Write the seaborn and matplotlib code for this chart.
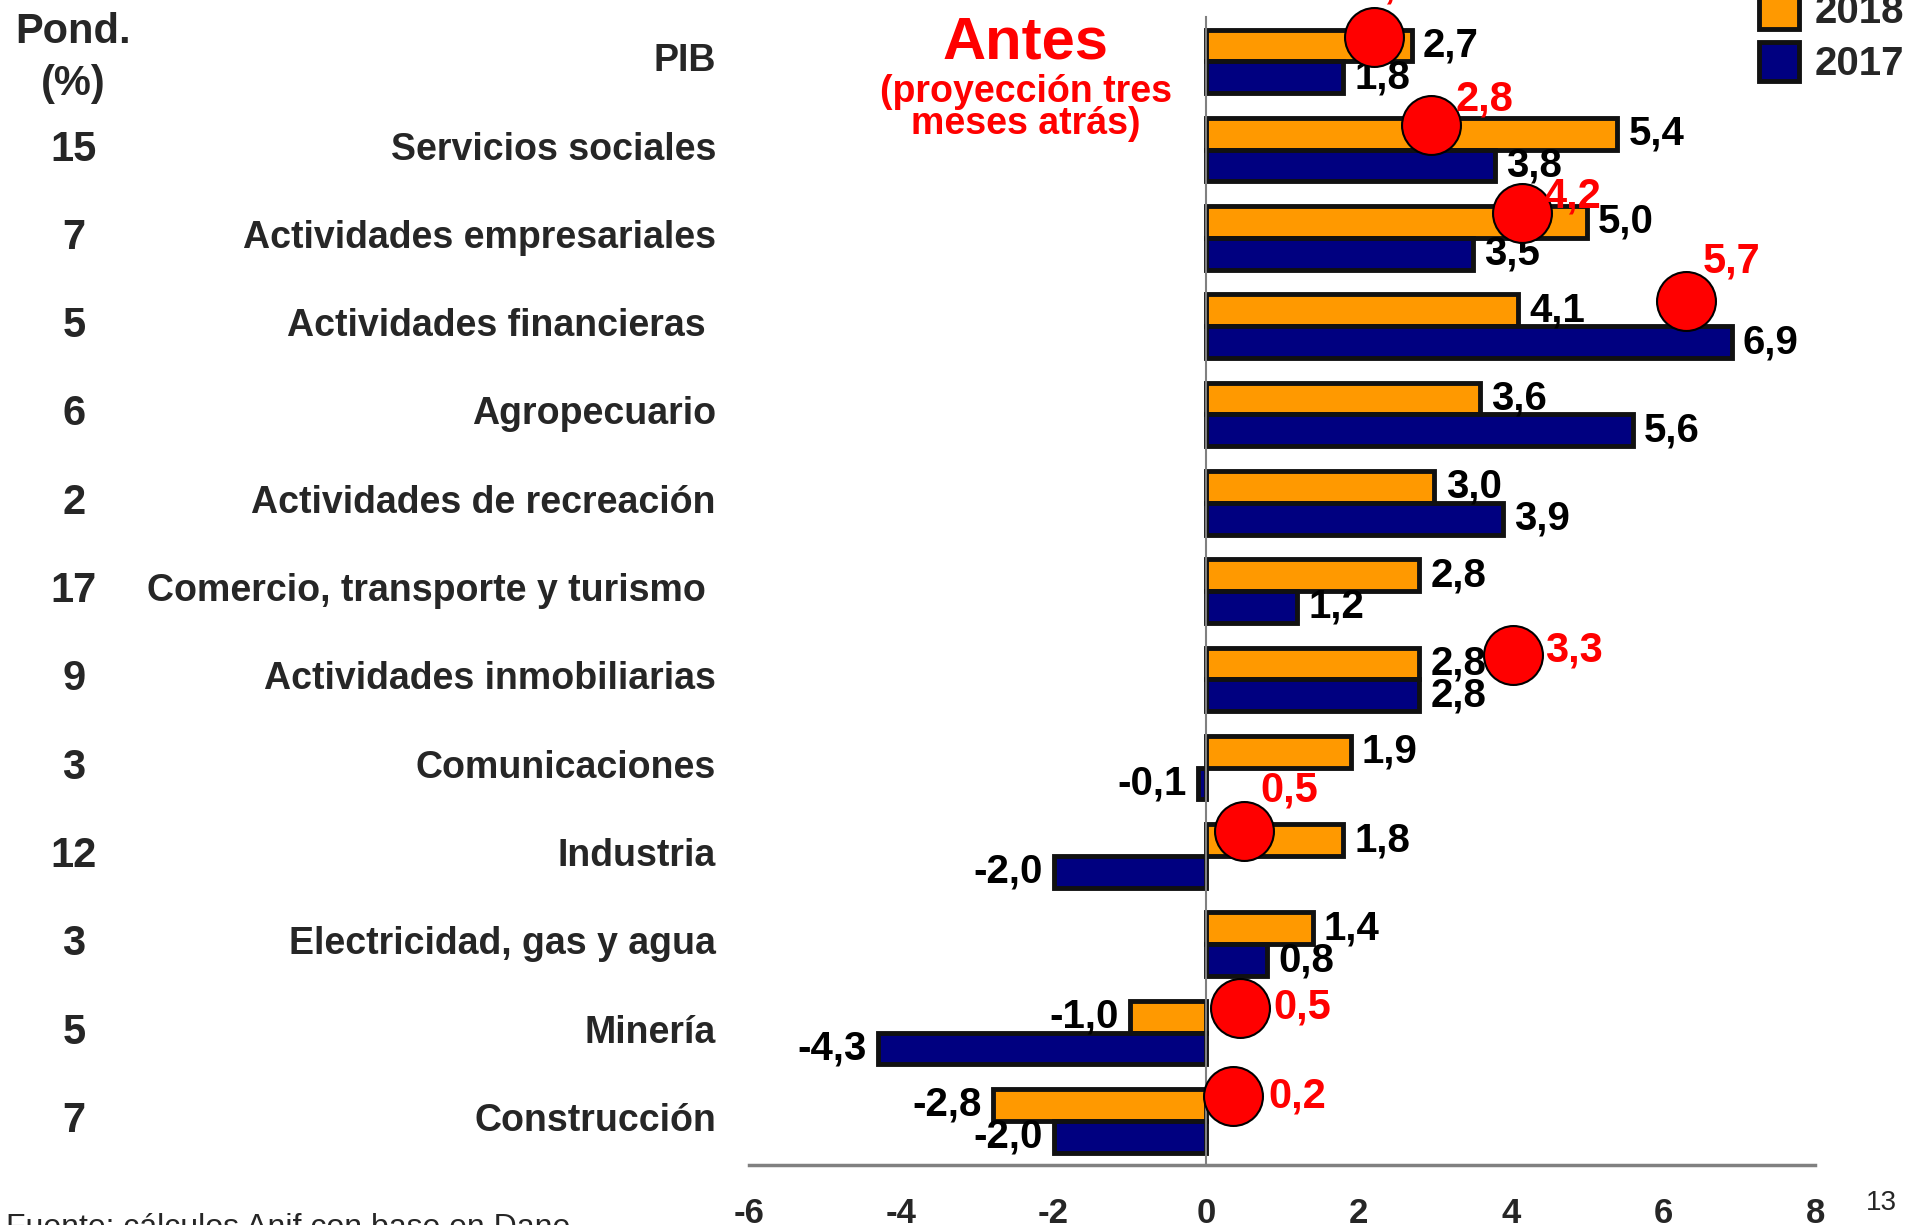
import matplotlib.pyplot as plt
import matplotlib.transforms as mtransforms
from matplotlib.patches import Patch
import numpy as np
import pandas as pd
import seaborn as sns

# growth by sector (%), 2018 vs 2017
sectors = [
    "PIB",
    "Servicios sociales",
    "Actividades empresariales",
    "Actividades financieras ",
    "Agropecuario",
    "Actividades de recreación",
    "Comercio, transporte y turismo ",
    "Actividades inmobiliarias",
    "Comunicaciones",
    "Industria",
    "Electricidad, gas y agua",
    "Minería",
    "Construcción",
]
pond = ["", "15", "7", "5", "6", "2", "17", "9", "3", "12", "3", "5", "7"]
growth_2018 = [2.7, 5.4, 5.0, 4.1, 3.6, 3.0, 2.8, 2.8, 1.9, 1.8, 1.4, -1.0, -2.8]
growth_2017 = [1.8, 3.8, 3.5, 6.9, 5.6, 3.9, 1.2, 2.8, -0.1, -2.0, 0.8, -4.3, -2.0]

# previous projection (three months earlier): circle position and its label
antes_sectors = ["PIB", "Servicios sociales", "Actividades empresariales",
                 "Actividades financieras ", "Actividades inmobiliarias",
                 "Industria", "Minería", "Construcción"]
antes_pos = [2.2, 2.95, 4.15, 6.3, 4.03, 0.5, 0.45, 0.35]
antes_labels = ["2,2", "2,8", "4,2", "5,7", "3,3", "0,5", "0,5", "0,2"]
# label offsets in points (layout only)
antes_offsets = [(-9, 36), (18, 18), (15, 12), (12, 29), (23, 3), (12, 29), (24, 0), (26, 0)]

ORANGE = "#FF9900"
NAVY = "#000080"

sns.set_style("white")
plt.rcParams["font.family"] = ["Liberation Sans", "DejaVu Sans"]
plt.rcParams["axes.unicode_minus"] = False

df = pd.DataFrame({
    "sector": sectors * 2,
    "year": ["2018"] * len(sectors) + ["2017"] * len(sectors),
    "value": growth_2018 + growth_2017,
})

fig = plt.figure(figsize=(19.15, 12.25), dpi=100)
ax = fig.add_axes([0.391, 0.049, 0.948 - 0.391, 0.986 - 0.049])

sns.barplot(
    data=df, x="value", y="sector", hue="year", hue_order=["2018", "2017"],
    order=sectors, palette={"2018": ORANGE, "2017": NAVY}, orient="h",
    width=0.72, saturation=1, edgecolor="#111111", linewidth=3.5,
    legend=False, ax=ax,
)

for cont in ax.containers:
    vals = [b.get_width() for b in cont]
    ax.bar_label(cont, labels=[f"{v:.1f}".replace(".", ",") for v in vals],
                 padding=8, fontsize=29, fontweight="bold", color="black")

# previous-projection circles
ypos = [sectors.index(s) - 0.28 for s in antes_sectors]
ax.scatter(antes_pos, ypos, s=1800, color="#FF0000", edgecolor="black",
           linewidth=1.5, zorder=5, clip_on=False)
for x, y, lab, off in zip(antes_pos, ypos, antes_labels, antes_offsets):
    ax.annotate(lab, (x, y), xytext=off, textcoords="offset points",
                ha="left", va="center", color="#FF0000", fontsize=30,
                fontweight="bold", zorder=6, annotation_clip=False)

ax.set_xlim(-6, 8)
ax.set_ylim(len(sectors) - 0.5, -0.5)
ax.set_xticks(range(-6, 9, 2))
ax.set_xlabel("")
ax.set_ylabel("")
ax.set_yticks(np.arange(-0.5, len(sectors), 1.0))
ax.set_yticklabels([])
ax.tick_params(axis="y", direction="out", length=10, width=1.5, color="gray")
ax.tick_params(axis="x", direction="out", length=11, width=1.5, color="gray", pad=12,
               labelsize=25)
for lab in ax.get_xticklabels():
    lab.set_fontweight("bold")

ax.spines["top"].set_visible(False)
ax.spines["right"].set_visible(False)
ax.spines["left"].set_position(("data", 0))
ax.spines["left"].set_color("gray")
ax.spines["left"].set_linewidth(1.5)
ax.spines["bottom"].set_color("gray")
ax.spines["bottom"].set_linewidth(2.5)

# sector names and weights
trans = mtransforms.blended_transform_factory(fig.transFigure, ax.transData)
for i, (name, w) in enumerate(zip(sectors, pond)):
    ax.text(716 / 1915, i, name, transform=trans, ha="right", va="center",
            fontsize=27, fontweight="bold")
    if w:
        ax.text(74 / 1915, i, w, transform=trans, ha="center", va="center",
                fontsize=30, fontweight="bold")

fig.text(73 / 1915, 1 - 58 / 1225, "Pond.\n(%)", ha="center", va="center",
         fontsize=30, fontweight="bold", linespacing=1.4)

fig.text(1026 / 1915, 1 - 43 / 1225, "Antes", ha="center", va="center",
         fontsize=43, fontweight="bold", color="#FF0000")
fig.text(1026 / 1915, 1 - 108 / 1225, "(proyección tres\nmeses atrás)", ha="center",
         va="center", fontsize=27, fontweight="bold", color="#FF0000", linespacing=0.85)

handles = [Patch(facecolor=ORANGE, edgecolor="#111111", linewidth=3.5, label="2018"),
           Patch(facecolor=NAVY, edgecolor="#111111", linewidth=3.5, label="2017")]
fig.legend(handles=handles, loc="upper left", bbox_to_anchor=(1759 / 1915, 1.008),
           frameon=False, borderpad=0, borderaxespad=0, handlelength=1.0,
           handleheight=1.12, handletextpad=0.38, labelspacing=0.25,
           prop={"size": 29, "weight": "bold"})

fig.text(6 / 1915, 12 / 1225, "Fuente: cálculos Anif con base en Dane", ha="left",
         va="top", fontsize=23)
fig.text(1881 / 1915, 1 - 1203 / 1225, "13", ha="center", va="center", fontsize=20)

fig.savefig("out.png", dpi=100)
